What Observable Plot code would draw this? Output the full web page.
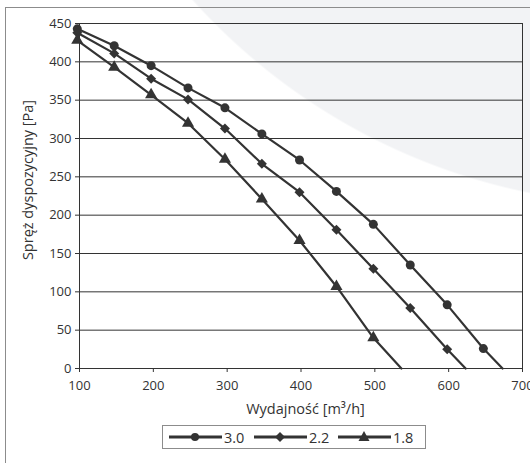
<!DOCTYPE html>
<html><head><meta charset="utf-8">
<script src="https://cdn.jsdelivr.net/npm/d3@7"></script>
<script src="https://cdn.jsdelivr.net/npm/@observablehq/plot@0.6"></script>
<style>
body{margin:0;background:#fff;font-family:"Open Sans",sans-serif;}
#wrap{position:relative;width:530px;height:463px;overflow:hidden;background:radial-gradient(circle 618px at 652px -412px,#f2f3f5 99.7%,#fff 100%);}
#frame{position:absolute;left:5px;top:7px;width:600px;height:600px;border-left:1px solid #8c8c8c;border-top:1px solid #8c8c8c;}
#chart{position:absolute;left:0;top:0;}
#legend{position:absolute;left:162px;top:425px;width:262px;height:22px;border:1px solid #8c8c8c;background:#fff;font-size:14.5px;color:#333;}
#legend .item{position:absolute;top:0;height:22px;display:flex;align-items:center;}
#legend .item span{margin-left:2px;}
</style>
</head><body>
<div id="wrap"><div id="frame"></div><div id="chart"></div><div id="legend"></div></div>
<script>
const seriesNames = ["3.0", "2.2", "1.8"];
const flow30 = [97, 147, 197, 247, 297, 347, 398, 448, 498, 548, 598, 647];
const press30 = [443, 421, 395, 366, 340, 306, 272, 231, 188, 135, 83, 26];
const flow22 = [97, 147, 197, 247, 297, 347, 398, 448, 498, 548, 598];
const press22 = [438, 411, 378, 351, 313, 267, 230, 181, 130, 79, 25];
const flow18 = [97, 147, 197, 247, 297, 347, 398, 448, 498];
const press18 = [428, 393, 357, 320, 273, 221, 167, 107, 40];
const lineEndFlow = [673, 623, 536]; // where each curve reaches 0 Pa
const xTicks = [100, 200, 300, 400, 500, 600, 700];
const yTicks = [0, 50, 100, 150, 200, 250, 300, 350, 400, 450];
const xTitle = "Wydajność [m³/h]";
const yTitle = "Spręż dyspozycyjny [Pa]";
const symbols = ["circle", "diamond2", "triangle"];

const flows = [flow30, flow22, flow18];
const presses = [press30, press22, press18];
const markerRows = [];
const lineRows = [];
seriesNames.forEach((s, i) => {
  flows[i].forEach((f, j) => {
    const row = {series: s, flow: f, press: presses[i][j]};
    markerRows.push(row);
    lineRows.push(row);
  });
  lineRows.push({series: s, flow: lineEndFlow[i], press: 0});
});

const chart = Plot.plot({
  width: 530, height: 420,
  marginLeft: 79, marginRight: 8, marginTop: 23, marginBottom: 52,
  style: {background: "transparent", fontFamily: "Open Sans", fontSize: "13px", color: "#333"},
  x: {domain: [100, 700]},
  y: {domain: [0, 450]},
  symbol: {domain: seriesNames, range: symbols},
  marks: [
    Plot.gridY(yTicks, {stroke: "#333", strokeOpacity: 1}),
    Plot.frame({stroke: "#333"}),
    Plot.axisX(xTicks, {tickSize: 4, tickPadding: 8, fontSize: 13, label: null, stroke: "#333", fill: "#333"}),
    Plot.axisY(yTicks, {tickSize: 4, tickPadding: 4, fontSize: 13, label: null, stroke: "#333", fill: "#333"}),
    Plot.line(lineRows, {x: "flow", y: "press", z: "series", stroke: "#333", strokeWidth: 2.2}),
    Plot.dot(markerRows, {x: "flow", y: "press", symbol: "series", fill: "#333", r: 4.5}),
    Plot.text([xTitle], {text: d => d, frameAnchor: "bottom", textAnchor: "middle", lineAnchor: "middle", dy: 41, dx: 4.5, fontSize: 14.5, fill: "#333"}),
    Plot.text([yTitle], {text: d => d, frameAnchor: "left", textAnchor: "middle", lineAnchor: "middle", dx: -51, dy: -16, rotate: -90, fontSize: 14.5, fill: "#333"})
  ]
});
document.getElementById("chart").appendChild(chart);

const legend = document.getElementById("legend");
const shapes = {
  "circle": '<circle cx="26" cy="7" r="4" fill="#333"/>',
  "diamond2": '<path d="M26 2L31 7L26 12L21 7Z" fill="#333"/>',
  "triangle": '<path d="M26 1L31.5 11L20.5 11Z" fill="#333"/>'
};
const itemLeft = [6, 91, 175];
seriesNames.forEach((s, i) => {
  const div = document.createElement("div");
  div.className = "item";
  div.style.left = itemLeft[i] + "px";
  div.innerHTML = '<svg width="53" height="14"><line x1="0" x2="53" y1="7" y2="7" stroke="#333" stroke-width="2.8"/>' + shapes[symbols[i]] + '</svg><span>' + s + '</span>';
  legend.appendChild(div);
});
</script>
</body></html>
